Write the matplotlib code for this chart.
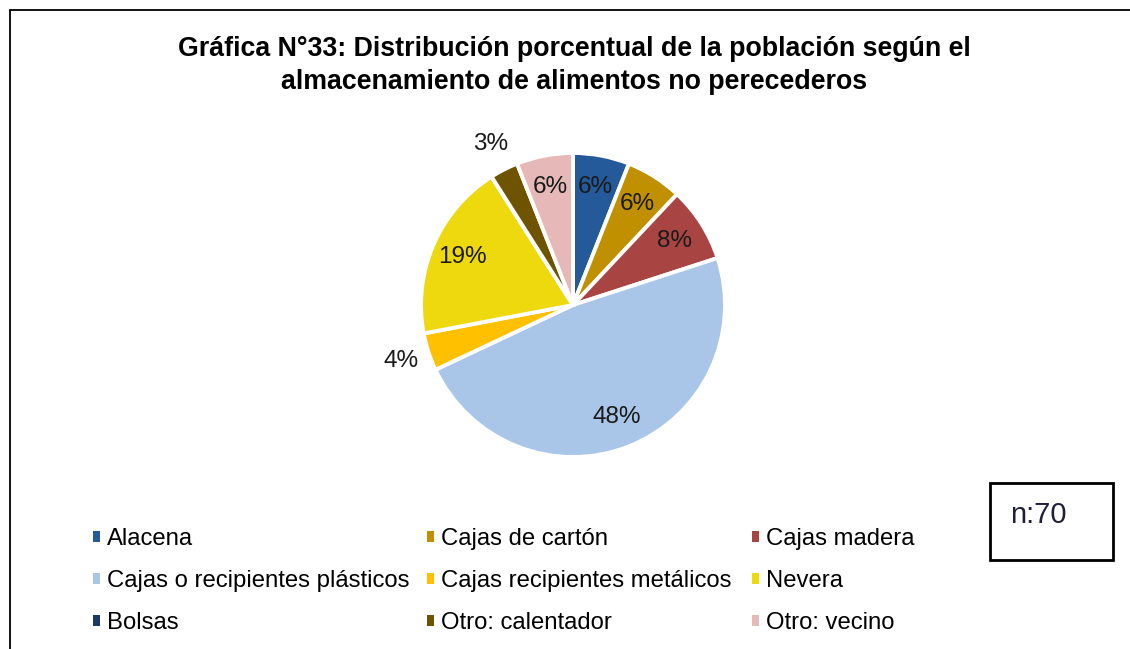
import matplotlib.pyplot as plt
from matplotlib.patches import Patch, Rectangle
import numpy as np

plt.rcParams['font.family'] = ['Liberation Sans', 'DejaVu Sans']

categorias = ['Alacena', 'Cajas de cartón', 'Cajas madera',
              'Cajas o recipientes plásticos', 'Cajas recipientes metálicos',
              'Nevera', 'Bolsas', 'Otro: calentador', 'Otro: vecino']
porcentajes = [6, 6, 8, 48, 4, 19, 0, 3, 6]
colores = ['#255A9A', '#C09000', '#A84542', '#A9C6E8', '#FFC000',
           '#EED80E', '#1B3A63', '#6E5300', '#E6B9B8']
titulo = ('Gráfica N°33: Distribución porcentual de la población según el\n'
          'almacenamiento de alimentos no perecederos')
muestra = 'n:70'

W, H = 1130, 649
fig = plt.figure(figsize=(W / 100, H / 100), dpi=100)

# marco del gráfico (solo borde superior e izquierdo quedan dentro)
fig.patches.append(Rectangle((10 / W, -0.1), 1.2, (H - 10) / H + 0.1,
                             transform=fig.transFigure, fill=False,
                             edgecolor='black', linewidth=1.3))

fig.text(574 / W, 1 - 65.5 / H, titulo, ha='center', va='center',
         fontsize=19.3, fontweight='bold', linespacing=1.33)

# pastel
cx, cy, R = 573, 305, 152
ax = fig.add_axes([(cx - 1.25 * R) / W, (H - cy - 1.25 * R) / H,
                   2.5 * R / W, 2.5 * R / H])
wedges, _, autotexts = ax.pie(
    porcentajes, colors=colores, startangle=90, counterclock=False,
    autopct=lambda p: '' if p < 0.5 else f'{p:.0f}%', pctdistance=0.79,
    wedgeprops=dict(edgecolor='white', linewidth=2.8),
    textprops=dict(fontsize=17.5, color='#1a1a1a'))
ax.set_xlim(-1.25, 1.25)
ax.set_ylim(-1.25, 1.25)

# etiquetas de sectores pequeños por fuera
for w, t, v in zip(wedges, autotexts, porcentajes):
    if 0 < v < 5:
        ang = np.deg2rad((w.theta1 + w.theta2) / 2)
        t.set_position((1.19 * np.cos(ang), 1.19 * np.sin(ang)))

# leyenda en tres columnas
col_x = [93, 427, 752]
for c in range(3):
    idx = [c, c + 3, c + 6]
    handles = [Patch(facecolor=colores[i], edgecolor='none') for i in idx]
    leg = fig.legend(handles, [categorias[i] for i in idx], loc='upper left',
                     bbox_to_anchor=(col_x[c] / W, 1 - 528 / H),
                     frameon=False, fontsize=17.2, borderpad=0,
                     borderaxespad=0, handlelength=0.29, handleheight=0.29,
                     handletextpad=0.3, labelspacing=0.84)

# recuadro con tamaño de muestra
fig.patches.append(Rectangle((990 / W, 1 - 560 / H), 123 / W, 77 / H,
                             transform=fig.transFigure, fill=True,
                             facecolor='white', edgecolor='black',
                             linewidth=2))
fig.text(1010 / W, 1 - 515 / H, muestra, ha='left', va='center',
         fontsize=21, color='#1f1f3a')

fig.savefig('out.png', dpi=100)
